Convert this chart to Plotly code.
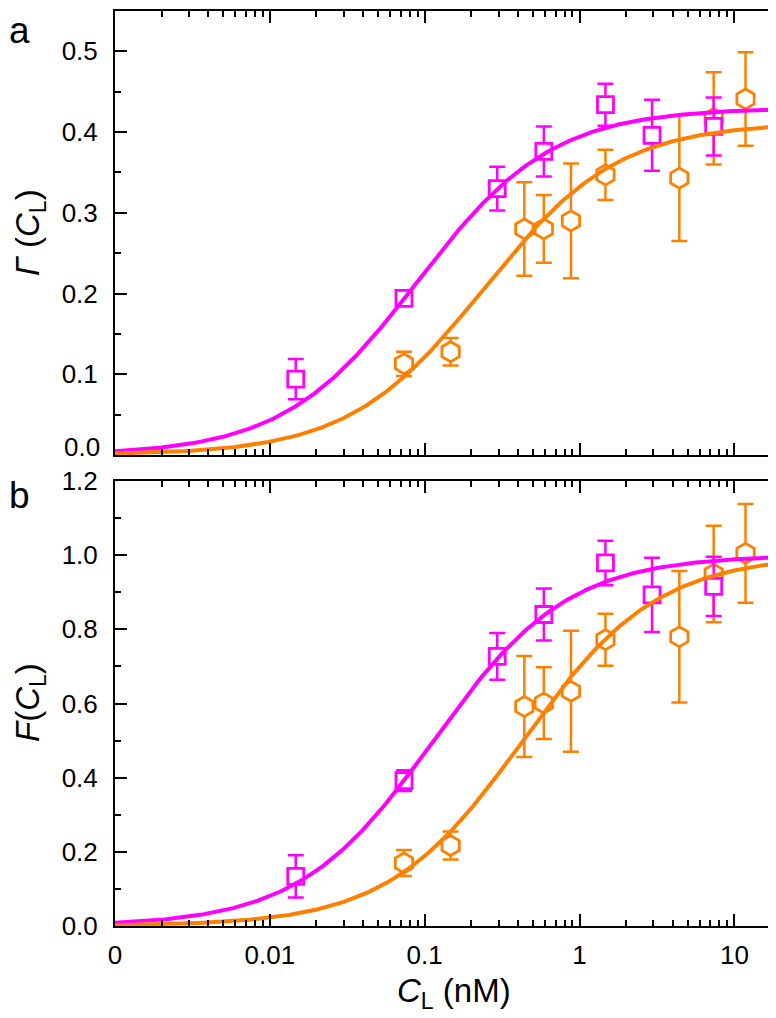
import numpy as np
import plotly.graph_objects as go

# ---------------- data ----------------
conc_magenta = [0.0147, 0.0735, 0.294, 0.588, 1.47, 2.94, 7.35]
conc_orange = [0.0735, 0.147, 0.44, 0.588, 0.88, 1.47, 4.41, 7.35, 11.8]

gamma_magenta = [0.094, 0.194, 0.330, 0.376, 0.434, 0.396, 0.407]
gamma_magenta_err = [0.025, 0.009, 0.027, 0.031, 0.026, 0.044, 0.036]
gamma_orange = [0.113, 0.128, 0.280, 0.280, 0.290, 0.347, 0.343, 0.417, 0.441]
gamma_orange_err = [0.015, 0.017, 0.058, 0.042, 0.071, 0.031, 0.078, 0.057, 0.058]

frac_magenta = [0.134, 0.392, 0.727, 0.840, 0.979, 0.893, 0.916]
frac_magenta_err = [0.057, 0.028, 0.063, 0.070, 0.060, 0.100, 0.080]
frac_orange = [0.170, 0.217, 0.592, 0.601, 0.633, 0.772, 0.780, 0.949, 1.005]
frac_orange_err = [0.035, 0.038, 0.136, 0.097, 0.163, 0.070, 0.177, 0.130, 0.133]

# Langmuir fit parameters (max, K in nM)
fit_a_magenta = (0.430, 0.090)
fit_a_orange = (0.412, 0.240)
fit_b_magenta = (1.0, 0.114)
fit_b_orange = (1.0, 0.430)

x_tickvals = [0.001, 0.01, 0.1, 1, 10]
x_ticktext = ["0", "0.01", "0.1", "1", "10"]
x_minor = [m * 10.0 ** e for e in range(-3, 2) for m in range(2, 10)]

# panel a: "0.0" is drawn separately, lifted as in the original
ya_tickvals = [0.1, 0.2, 0.3, 0.4, 0.5]
ya_ticktext = ["0.1", "0.2", "0.3", "0.4", "0.5"]

MAGENTA = "#FF00FF"
ORANGE = "#FF8000"
FONT = "Liberation Sans, Arial, sans-serif"
TICK_SIZE = 26
TITLE_SIZE = 33

x_fit = np.logspace(-3, np.log10(20), 300)


def langmuir(x, p):
    return p[0] * x / (p[1] + x)


fig = go.Figure()


def add_points(x, y, err, color, symbol, size, xa, ya):
    fig.add_trace(go.Scatter(
        x=x, y=y, mode="markers", xaxis=xa, yaxis=ya, showlegend=False,
        error_y=dict(type="data", array=err, visible=True, color=color,
                     thickness=2.5, width=8),
        marker=dict(symbol=symbol, size=size, color="white",
                    line=dict(color=color, width=2.8)),
        cliponaxis=False,
    ))


def add_fit(p, color, xa, ya):
    fig.add_trace(go.Scatter(
        x=x_fit, y=langmuir(x_fit, p), mode="lines", xaxis=xa, yaxis=ya,
        showlegend=False, line=dict(color=color, width=4),
    ))


# panel a
add_points(conc_orange, gamma_orange, gamma_orange_err, ORANGE, "hexagon", 20, "x", "y")
add_points(conc_magenta, gamma_magenta, gamma_magenta_err, MAGENTA, "square", 16, "x", "y")
add_fit(fit_a_magenta, MAGENTA, "x", "y")
add_fit(fit_a_orange, ORANGE, "x", "y")

# panel b
add_points(conc_orange, frac_orange, frac_orange_err, ORANGE, "hexagon", 20, "x2", "y2")
add_points(conc_magenta, frac_magenta, frac_magenta_err, MAGENTA, "square", 16, "x2", "y2")
add_fit(fit_b_magenta, MAGENTA, "x2", "y2")
add_fit(fit_b_orange, ORANGE, "x2", "y2")

common_axis = dict(
    showline=True, linewidth=2, linecolor="black", mirror="allticks",
    ticks="inside", ticklen=12, tickwidth=2, tickcolor="black",
    showgrid=False, zeroline=False,
    tickfont=dict(family=FONT, size=TICK_SIZE, color="black"),
)

x_axis = dict(
    type="log", range=[-3, np.log10(20)],
    tickmode="array", tickvals=x_tickvals, ticktext=x_ticktext,
    minor=dict(ticks="inside", ticklen=6, tickwidth=1.8, tickcolor="black",
               tickmode="array", tickvals=x_minor, showgrid=False),
    **common_axis,
)

dom_a = [(918 - 447) / 915, 1.0]
dom_b = [0.0, (918 - 473) / 915]

fig.update_layout(
    width=776, height=1018,
    margin=dict(l=107, r=3, t=3, b=100, autoexpand=False),
    paper_bgcolor="white", plot_bgcolor="white",
    font=dict(family=FONT, size=TICK_SIZE, color="black"),
    xaxis=dict(anchor="y", showticklabels=False, **x_axis),
    xaxis2=dict(anchor="y2", showticklabels=True, ticklabelstandoff=5, **x_axis),
    yaxis=dict(domain=dom_a, anchor="x", range=[0, 0.55], tickmode="array",
               tickvals=ya_tickvals, ticktext=ya_ticktext, ticklabelstandoff=10,
               minor=dict(ticks="inside", ticklen=6, tickwidth=1.8,
                          tickcolor="black", dtick=0.05, tick0=0, showgrid=False),
               **common_axis),
    yaxis2=dict(domain=dom_b, anchor="x2", range=[0, 1.2], tickmode="linear",
                tick0=0, dtick=0.2, tickformat=".1f", ticklabelstandoff=10,
                minor=dict(ticks="inside", ticklen=6, tickwidth=1.8,
                           tickcolor="black", dtick=0.1, showgrid=False),
                **common_axis),
)


def px_x(p):
    return (p - 107) / 666


def px_y(p):
    return (918 - p) / 915


annots = [
    dict(text="a", x=px_x(11), y=px_y(0), size=37, ya="top", xa="center"),
    dict(text="b", x=px_x(11), y=px_y(487), size=37, ya="middle", xa="center"),
    dict(text="0.0", x=px_x(94), y=px_y(439), size=TICK_SIZE, ya="middle", xa="right"),
    dict(text="<i>Γ</i> (<i>C</i><sub>L</sub>)", x=px_x(22), y=px_y(225),
         size=TITLE_SIZE, angle=-90, ya="middle", xa="center"),
    dict(text="<i>F</i>(<i>C</i><sub>L</sub>)", x=px_x(22), y=px_y(695),
         size=TITLE_SIZE, angle=-90, ya="middle", xa="center"),
    dict(text="<i>C</i><sub>L</sub> (nM)", x=px_x(446), y=px_y(962),
         size=TITLE_SIZE, ya="top", xa="center"),
]
for a in annots:
    fig.add_annotation(
        text=a["text"], xref="paper", yref="paper", x=a["x"], y=a["y"],
        xanchor=a["xa"], yanchor=a["ya"], showarrow=False,
        textangle=a.get("angle", 0),
        font=dict(family=FONT, size=a["size"], color="black"),
    )

fig.write_html("out.html")
